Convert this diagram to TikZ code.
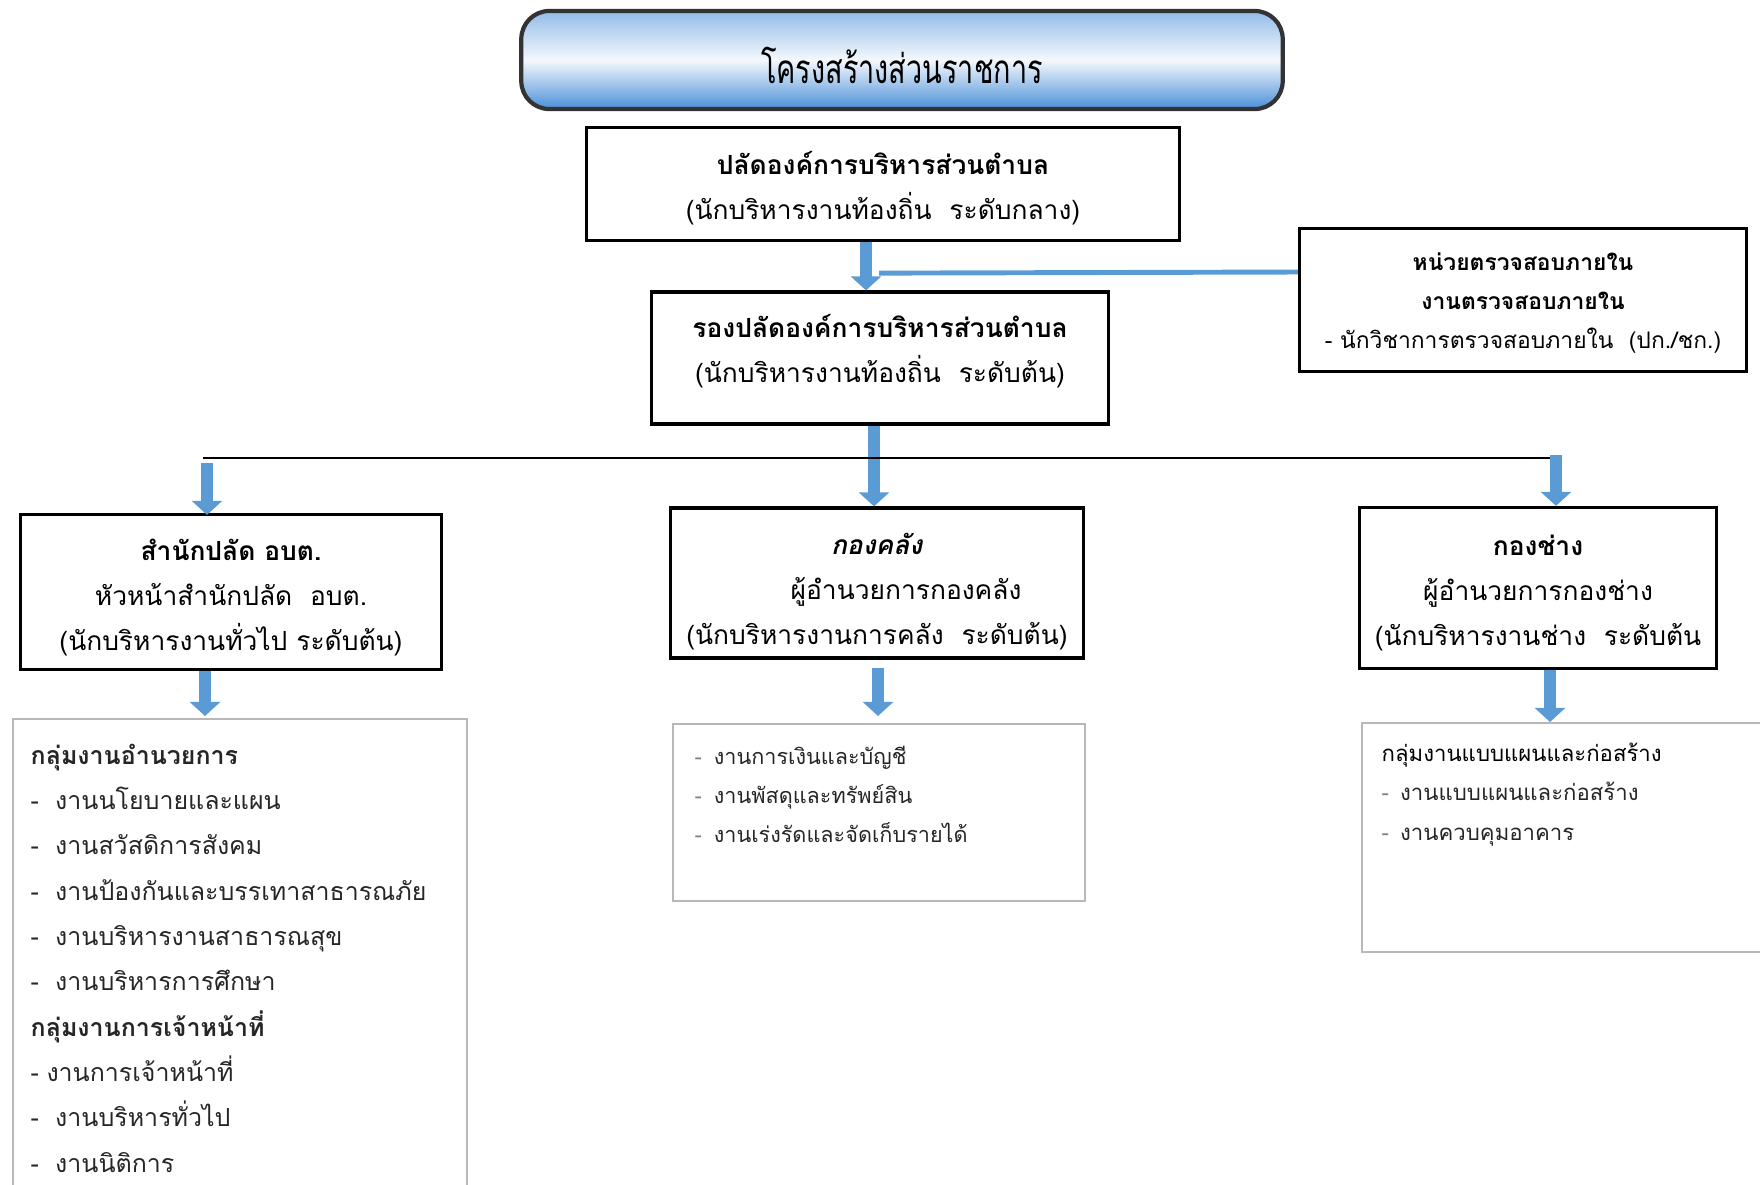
\documentclass[tikz,border=0pt]{standalone}
\usepackage{fontspec}
\setmainfont[Script=Thai]{Loma}
\usepackage{tikz}
\usetikzlibrary{arrows.meta,calc,positioning}

\definecolor{arrowblue}{HTML}{5B9BD5}
\definecolor{titleblue}{HTML}{4A8FD8}
\definecolor{listgray}{HTML}{B8B8B8}

\begin{document}
\begin{tikzpicture}[x=0.01cm, y=-0.01cm,
  unit/.style={draw, line width=0.9pt, inner sep=0pt},
  unittext/.style={align=center, inner sep=0pt, font=\fontsize{7.5}{12.8}\selectfont},
  listbox/.style={draw=listgray, line width=0.5pt, inner sep=0pt},
  listtext/.style={align=left, inner sep=0pt, anchor=north west, text=black!85},
  blockarrow/.style={draw=arrowblue, line width=3.3pt, -{Triangle[width=8.5pt,length=4pt]}},
  tapline/.style={draw=arrowblue, line width=1.4pt}]
  \useasboundingbox (0,0) rectangle (1760,1184);
  \clip (0,0) rectangle (1760,1184);
  % Nodes
  \node[draw=black!80, line width=1.2pt, rounded corners=0.28cm, top color=titleblue!60, bottom color=titleblue, middle color=titleblue!6, minimum width=7.61cm, minimum height=0.98cm, font=\fontsize{8.2}{10}\selectfont, text depth=0pt](title) at (902,60){\raisebox{-3pt}{\scalebox{1}[1.4]{โครงสร้างส่วนราชการ}}};
  \node[unit, minimum width=5.92cm, minimum height=1.13cm](palad) at (883,184){};
  \node[unittext](paladtext) at ($(palad)+(0,4)$){\textbf{ปลัดองค์การบริหารส่วนตำบล}\\(นักบริหารงานท้องถิ่น\ \ ระดับกลาง)};
  \node[unit, minimum width=4.57cm, minimum height=1.32cm](rong) at (880,358){};
  \node[unittext](rongtext) at ($(rong)+(0,-7)$){\textbf{รองปลัดองค์การบริหารส่วนตำบล}\\(นักบริหารงานท้องถิ่น\ \ ระดับต้น)};
  \node[unit, minimum width=4.47cm, minimum height=1.43cm](audit) at (1523,300){};
  \node[unittext, font=\fontsize{6.5}{11}\selectfont](audittext) at ($(audit)+(0,3)$){\textbf{หน่วยตรวจสอบภายใน}\\\textbf{งานตรวจสอบภายใน}\\- นักวิชาการตรวจสอบภายใน\ \ (ปก./ชก.)};
  \node[unit, minimum width=4.20cm, minimum height=1.55cm](office) at (231,592){};
  \node[unittext](officetext) at ($(office)+(0,6)$){\textbf{สำนักปลัด อบต.}\\หัวหน้าสำนักปลัด\ \ อบต.\\(นักบริหารงานทั่วไป ระดับต้น)};
  \node[unit, minimum width=4.13cm, minimum height=1.50cm](finance) at (877,583){};
  \node[unittext](financetext) at ($(finance)+(0,9)$){\textbf{\textit{กองคลัง}}\\\hspace*{2.2em}ผู้อำนวยการกองคลัง\\(นักบริหารงานการคลัง\ \ ระดับต้น)};
  \node[unit, minimum width=3.56cm, minimum height=1.61cm](works) at (1538,588){};
  \node[unittext](workstext) at ($(works)+(0,5)$){\textbf{กองช่าง}\\ผู้อำนวยการกองช่าง\\(นักบริหารงานช่าง\ \ ระดับต้น};
  % Lists
  \node[listbox, minimum width=4.54cm, minimum height=4.9cm, anchor=north west](officelist) at (12,718){};
  \node[listbox, minimum width=4.12cm, minimum height=1.77cm, anchor=north west](finlist) at (672,723){};
  \node[listbox, minimum width=4.09cm, minimum height=2.29cm, anchor=north west](workslist) at (1361,722){};
  \node[listtext, font=\fontsize{7.1}{12.9}\selectfont](officeitems) at ($(officelist.north west)+(18,25)$){\textbf{กลุ่มงานอำนวยการ}\\-\hspace{0.65em}งานนโยบายและแผน\\-\hspace{0.65em}งานสวัสดิการสังคม\\-\hspace{0.65em}งานป้องกันและบรรเทาสาธารณภัย\\-\hspace{0.65em}งานบริหารงานสาธารณสุข\\-\hspace{0.65em}งานบริหารการศึกษา\\\textbf{กลุ่มงานการเจ้าหน้าที่}\\-\hspace{0.3em}งานการเจ้าหน้าที่\\-\hspace{0.65em}งานบริหารทั่วไป\\-\hspace{0.65em}งานนิติการ};
  \node[listtext, font=\fontsize{6.15}{11.2}\selectfont](finitems) at ($(finlist.north west)+(22,22)$){{\color{gray}-}\hspace{0.55em}งานการเงินและบัญชี\\{\color{gray}-}\hspace{0.55em}งานพัสดุและทรัพย์สิน\\{\color{gray}-}\hspace{0.55em}งานเร่งรัดและจัดเก็บรายได้};
  \node[listtext, font=\fontsize{6.3}{11.3}\selectfont](worksitems) at ($(workslist.north west)+(20,20)$){\textcolor{black}{กลุ่มงานแบบแผนและก่อสร้าง}\\{\color{gray}-}\hspace{0.5em}งานแบบแผนและก่อสร้าง\\{\color{gray}-}\hspace{0.5em}งานควบคุมอาคาร};
  % Edges
  \coordinate (busL) at (203,458);
  \coordinate (busR) at (1556,458);
  \coordinate (findrop) at ($(finance.south)+(1,8)$);
  \coordinate (worksdrop) at ($(works.south)+(12,0)$);
  \draw[blockarrow] ($(palad.south)+(-17,0)$) -- ($(rong.north)+(-14,0)$);
  \draw[tapline] ($(palad.south)+(-4,31)$) -- ($(audit.west)+(0,-28)$);
  \draw[blockarrow] ($(rong.south)+(-6,0)$) -- ($(finance.north)+(-3,0)$);
  \draw[line width=0.7pt] (busL) -- (busR);
  \draw[blockarrow] ($(busL)+(4,5)$) -- ($(busL |- office.north)+(4,2)$);
  \draw[blockarrow] ($(busR)+(0,-3)$) -- (busR |- works.north);
  \draw[blockarrow] ($(busL |- office.south)+(2,0)$) -- ($(busL |- officelist.north)+(2,-2)$);
  \draw[blockarrow] (findrop) -- ($(findrop |- finlist.north)+(0,-7)$);
  \draw[blockarrow] (worksdrop) -- (worksdrop |- workslist.north);
\end{tikzpicture}
\end{document}
